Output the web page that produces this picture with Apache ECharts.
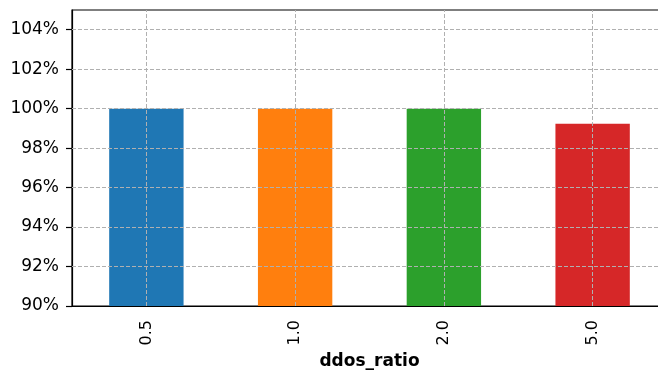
<!DOCTYPE html>
<html>
<head>
<meta charset="utf-8">
<script src="https://cdn.jsdelivr.net/npm/echarts@6/dist/echarts.min.js"></script>
<style>
  html, body { margin: 0; padding: 0; background: #fff; }
  #chart { width: 658px; height: 370px; }
</style>
</head>
<body>
<div id="chart"></div>
<script>
// ddos_ratio categories and their relative score (%)
const categories = ['0.5', '1.0', '2.0', '5.0'];
const values = [100.0, 100.0, 100.0, 99.24];
const barColors = ['#1f77b4', '#ff7f0e', '#2ca02c', '#d62728'];
const yTicks = [90, 92, 94, 96, 98, 100, 102, 104];

const FONT = 'DejaVu Sans';
const gridDash = { color: '#b0b0b0', type: [4, 2], width: 1 };

const chart = echarts.init(document.getElementById('chart'), null, { renderer: 'canvas' });

chart.setOption({
  animation: false,
  backgroundColor: '#ffffff',
  grid: {
    left: 72, top: 10, right: -9, bottom: 64,
    containLabel: false,
    outerBoundsMode: 'none',
    show: true, borderColor: '#000', borderWidth: 1.2, backgroundColor: 'transparent'
  },
  xAxis: {
    type: 'category',
    data: categories,
    boundaryGap: true,
    name: 'ddos_ratio',
    nameLocation: 'middle',
    nameGap: 47,
    nameTextStyle: { fontFamily: FONT, fontSize: 17, fontWeight: 'bold', color: '#000' },
    axisLine: { lineStyle: { color: '#000', width: 1.2 } },
    axisTick: { alignWithLabel: true, length: 5, lineStyle: { color: '#000', width: 1.2 } },
    axisLabel: { rotate: 90, margin: 14, fontFamily: FONT, fontSize: 16, color: '#000' },
    splitLine: { show: false }
  },
  yAxis: {
    type: 'value',
    min: 90, max: 105, interval: 2,
    axisLine: { show: true, lineStyle: { color: '#000', width: 1.2 } },
    axisTick: { show: true, length: 6, lineStyle: { color: '#000', width: 1.2 } },
    axisLabel: {
      margin: 13, fontFamily: FONT, fontSize: 17, color: '#000',
      showMaxLabel: false,
      formatter: v => yTicks.includes(Math.round(v)) ? Math.round(v) + '%' : ''
    },
    splitLine: { show: false }
  },
  series: [{
    type: 'bar',
    barWidth: '50%',
    data: values.map((v, i) => ({ value: v, itemStyle: { color: barColors[i] } })),
    markLine: {
      silent: true,
      symbol: 'none',
      label: { show: false },
      lineStyle: gridDash,
      data: [
        ...yTicks.filter(t => t > 90).map(t => ({ yAxis: t })),
        ...categories.map(c => ({ xAxis: c }))
      ]
    }
  }]
});
</script>
</body>
</html>
